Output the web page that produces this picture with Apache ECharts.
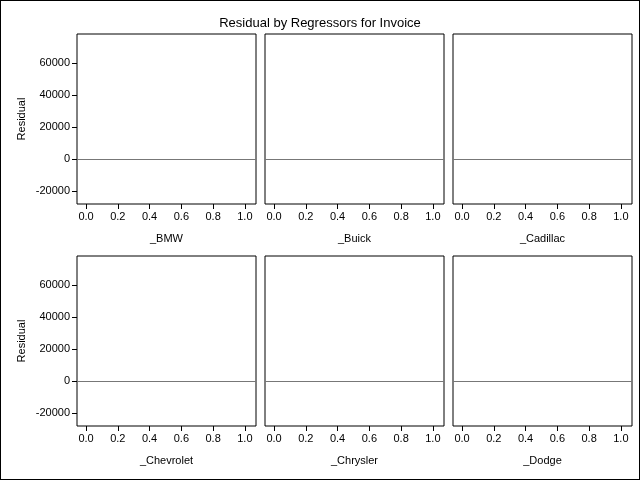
<!DOCTYPE html>
<html><head><meta charset="utf-8">
<script src="https://cdn.jsdelivr.net/npm/echarts@6/dist/echarts.min.js"></script>
<style>html,body{margin:0;padding:0;background:#fff}#c{width:638px;height:478px;border:1px solid #000}</style>
</head><body><div id="c"></div>
<script>
const makes = ["_BMW","_Buick","_Cadillac","_Chevrolet","_Chrysler","_Dodge"];
const baseResiduals = [72000,32000,30500,29000,27500,26000,24500,23000,20000,19500,19000,18500,18000,17000,16000,15000,14000,13000,12000,11000,10000,9000,8000,7000,6000,5000,4000,3000,2000,1000,0,-1000,-2000,-3000,-4000,-5000,-6000,-7000,-8000,-9000,-10000,-11000,-12000,-13000,-14000,-15000,-17500,-19500,-21500,-23000];
const makeResiduals = [
 [12000,10000,8500,7000,5500,4000,2500,1000,0,-1000,-2000,-3000,-4000,-5500,-7000,-8500,-11000],
 [4500,3500,2500,1500,500,-500,-2000,-3500,-5000],
 [19500,1500,0,-1000,-2500,-4000,-5500,-7000],
 [6500,5500,4500,3500,2500,1500,500,-500,-1500,-2500,-3500,-4500,-5500,-6500,-7500,-8500,-9500],
 [8000,6500,5000,3500,2000,1000,0,-1000,-2000,-3000,-4000,-5000,-6000,-7000],
 [6000,4500,3000,1500,0,-1000,-3500,-4500,-5000,-5500,-6500]
];
const yTicks = [-20000,0,20000,40000,60000];
const xTicks = [0,0.2,0.4,0.6,0.8,1.0];

const font = {fontFamily:"Liberation Sans, Arial", fontSize:11, color:"#000"};
const lefts=[76,264,452], tops=[33,255];
const grid=[],xAxis=[],yAxis=[],series=[];
makes.forEach((m,i)=>{
  const col=i%3,row=Math.floor(i/3);
  grid.push({left:lefts[col],top:tops[row],width:179,height:170,show:true,borderColor:"#000",borderWidth:1,backgroundColor:"#fff"});
  xAxis.push({gridIndex:i,type:"value",min:-0.057,max:1.07,name:m,nameLocation:"middle",nameGap:29,nameTextStyle:font,
    axisLine:{show:false,onZero:false},splitLine:{show:false},
    axisTick:{show:true,length:5,lineStyle:{color:"#000"},customValues:xTicks},
    axisLabel:{...font,margin:7,customValues:xTicks,formatter:v=>v.toFixed(1)}});
  yAxis.push({gridIndex:i,type:"value",min:-28000,max:78000,name:col===0?"Residual":"",nameLocation:"middle",nameGap:50,nameTextStyle:font,
    axisLine:{show:false,onZero:false},splitLine:{show:false},
    axisTick:{show:col===0,length:5,lineStyle:{color:"#000"},customValues:yTicks},
    axisLabel:{...font,show:col===0,margin:7,customValues:yTicks,formatter:v=>String(v)}});
  const data=baseResiduals.map(v=>[0,v]).concat(makeResiduals[i].map(v=>[1,v]));
  series.push({type:"scatter",xAxisIndex:i,yAxisIndex:i,data,symbol:"emptyCircle",symbolSize:4,
    itemStyle:{color:"#fff",borderColor:"#000",borderWidth:0.8},silent:true,animation:false,
    markLine:{silent:true,symbol:"none",label:{show:false},lineStyle:{color:"#777",type:"solid",width:1},data:[{yAxis:0}]}});
});
const chart=echarts.init(document.getElementById("c"));
chart.setOption({animation:false,
  title:{text:"Residual by Regressors for Invoice",left:"center",top:11,textStyle:{fontFamily:"Liberation Sans, Arial",fontSize:13,fontWeight:"normal",color:"#000"}},
  grid,xAxis,yAxis,series});
</script></body></html>
